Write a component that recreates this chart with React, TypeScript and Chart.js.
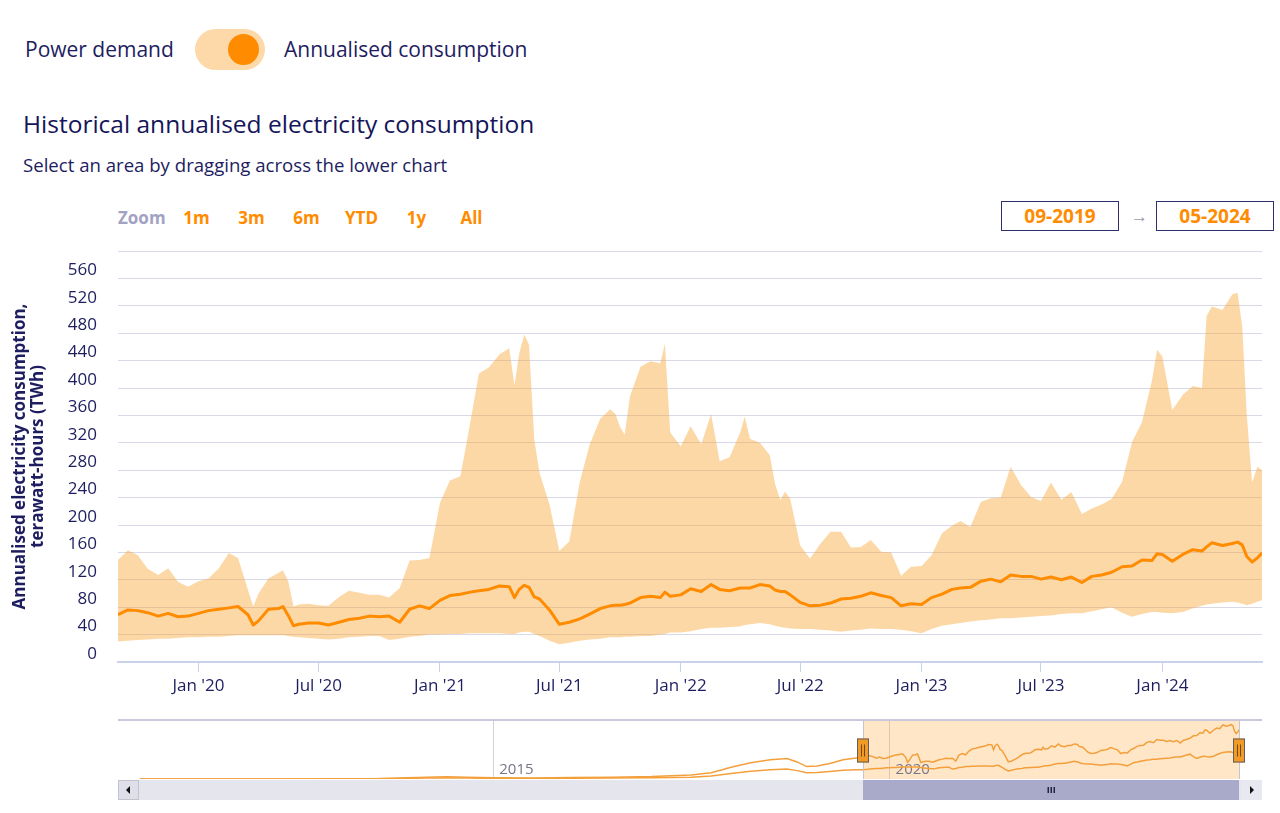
import React, { useEffect, useRef } from 'react';
import { Chart, registerables } from 'chart.js';

Chart.register(...registerables);

// ---------------- data ----------------
const dates: string[] = [
  '2019-09-01','2019-09-16','2019-10-01','2019-10-16','2019-11-01','2019-11-16','2019-12-01','2019-12-16',
  '2020-01-01','2020-01-16','2020-02-01','2020-02-16','2020-03-01','2020-03-16','2020-03-24','2020-04-01','2020-04-16','2020-05-01','2020-05-08','2020-05-16','2020-05-24','2020-06-01','2020-06-16','2020-07-01','2020-07-16','2020-08-01','2020-08-16','2020-09-01','2020-09-16','2020-10-01','2020-10-16','2020-11-01','2020-11-16','2020-12-01','2020-12-16',
  '2021-01-01','2021-01-16','2021-02-01','2021-02-16','2021-03-01','2021-03-16','2021-04-01','2021-04-16','2021-04-24','2021-05-01','2021-05-09','2021-05-16','2021-05-24','2021-06-01','2021-06-16','2021-07-01','2021-07-16','2021-08-01','2021-08-16','2021-09-01','2021-09-16','2021-09-24','2021-10-01','2021-10-08','2021-10-16','2021-11-01','2021-11-16','2021-12-01','2021-12-08','2021-12-16',
  '2022-01-01','2022-01-16','2022-02-01','2022-02-16','2022-03-01','2022-03-16','2022-04-01','2022-04-08','2022-04-16','2022-05-01','2022-05-16','2022-05-24','2022-06-01','2022-06-08','2022-06-16','2022-07-01','2022-07-16','2022-08-01','2022-08-16','2022-09-01','2022-09-16','2022-10-01','2022-10-16','2022-11-01','2022-11-16','2022-12-01','2022-12-16',
  '2023-01-01','2023-01-16','2023-02-01','2023-02-16','2023-03-01','2023-03-16','2023-04-01','2023-04-16','2023-05-01','2023-05-16','2023-06-01','2023-06-16','2023-07-01','2023-07-16','2023-08-01','2023-08-16','2023-09-01','2023-09-16','2023-10-01','2023-10-16','2023-11-01','2023-11-16','2023-12-01','2023-12-16','2023-12-24',
  '2024-01-01','2024-01-16','2024-02-01','2024-02-16','2024-03-01','2024-03-08','2024-03-16','2024-04-01','2024-04-16','2024-04-24','2024-05-01','2024-05-08','2024-05-16','2024-05-24','2024-05-31',
];

// upper bound of the estimate (TWh)
const upperTWh: number[] = [
  149, 163, 156, 136, 127, 137, 117, 110,
  118, 122, 137, 159, 152, 105, 81, 100, 122, 130, 134, 118, 81, 84, 85, 83, 82, 95, 104, 101, 98, 98, 94, 108, 148, 149, 152,
  232, 265, 271, 350, 421, 430, 449, 458, 404, 450, 478, 463, 325, 276, 230, 162, 176, 263, 318, 355, 369, 362, 343, 332, 388, 431, 439, 436, 465, 335,
  315, 344, 318, 362, 293, 299, 335, 358, 326, 320, 302, 260, 236, 249, 238, 170, 151, 173, 190, 190, 167, 168, 178, 161, 160, 126, 139,
  140, 156, 188, 199, 206, 197, 234, 239, 240, 285, 258, 241, 235, 262, 237, 248, 216, 224, 230, 238, 263, 321, 350, 410, 456,
  446, 368, 390, 403, 400, 505, 519, 514, 537, 539, 490, 360, 262, 285, 280,
];

// central estimate (TWh)
const centralTWh: number[] = [
  69, 76, 75, 72, 67, 71, 66, 67,
  71, 75, 77, 79, 81, 69, 54, 60, 77, 78, 81, 68, 53, 55, 57, 57, 54, 58, 62, 64, 67, 66, 67, 58, 77, 82, 78,
  90, 97, 99, 102, 104, 106, 111, 110, 94, 106, 112, 109, 95, 92, 76, 55, 58, 63, 70, 78, 82, 83, 83, 84, 86, 94, 96, 94, 102, 96,
  98, 107, 103, 113, 106, 104, 108, 108, 108, 113, 111, 105, 103, 103, 98, 87, 82, 83, 86, 92, 93, 96, 101, 97, 94, 82, 85,
  84, 94, 99, 106, 108, 109, 118, 121, 117, 127, 125, 125, 121, 124, 120, 124, 116, 125, 127, 131, 139, 140, 149, 148, 158,
  157, 147, 157, 164, 162, 168, 174, 170, 173, 175, 171, 154, 146, 152, 159,
];

// lower bound of the estimate (TWh)
const lowerTWh: number[] = [
  30, 31, 32, 33, 34, 34, 35, 36,
  36, 37, 37, 38, 39, 39, 39, 39, 39, 39, 39, 38, 37, 36, 35, 34, 33, 34, 36, 37, 38, 38, 32, 34, 37, 38, 40,
  40, 41, 41, 42, 42, 42, 42, 41, 41, 43, 44, 44, 41, 38, 31, 26, 28, 31, 33, 34, 36, 36, 36, 37, 37, 38, 38, 40, 41, 43,
  43, 45, 48, 50, 50, 51, 52, 54, 55, 57, 55, 53, 51, 50, 49, 48, 48, 47, 46, 44, 46, 47, 49, 48, 48, 47, 45,
  42, 48, 53, 55, 57, 59, 61, 62, 64, 64, 65, 66, 67, 68, 70, 71, 71, 74, 77, 80, 72, 66, 70, 73, 73,
  72, 71, 73, 78, 82, 84, 85, 87, 88, 87, 85, 83, 85, 88, 90,
];

// navigator history before the selected window
const navHistDates: string[] = [
  '2010-07-18','2011-01-01','2011-07-01','2012-01-01','2012-07-01','2013-01-01','2013-07-01','2013-12-01','2014-03-01','2014-06-01',
  '2014-09-01','2015-01-01','2015-07-01','2016-01-01','2016-07-01','2017-01-01','2017-07-01','2017-10-01','2018-01-01','2018-04-01',
  '2018-07-01','2018-09-15','2018-11-01','2018-12-15','2019-02-01','2019-04-01','2019-06-01','2019-08-01',
];
const navHistCentral: number[] = [
  0, 0.1, 0.3, 0.4, 0.4, 0.6, 1.2, 4, 6, 7,
  6, 4, 3.5, 4.5, 6, 8, 13, 20, 38, 52,
  62, 66, 55, 40, 42, 50, 62, 68,
];
const navHistLower: number[] = [
  0, 0.05, 0.1, 0.2, 0.2, 0.3, 0.6, 2, 3, 3.5,
  3, 2, 2, 2.5, 3, 4, 6, 10, 18, 25,
  30, 32, 27, 20, 21, 24, 28, 30,
];

const xTickDates: string[] = ['2020-01-01','2020-07-01','2021-01-01','2021-07-01','2022-01-01','2022-07-01','2023-01-01','2023-07-01','2024-01-01'];
const navTickDates: string[] = ['2015-01-01', '2020-01-01'];
const viewStart = '2019-09-01';
const viewEnd = '2024-05-31';
const navStart = '2010-04-08';
const navEnd = '2024-09-12';
const yMin = 0;
const yMax = 600;
const yStep = 40;
const navYMax = 190;
const zoomButtons: string[] = ['1m', '3m', '6m', 'YTD', '1y', 'All'];
const rangeFrom = '09-2019';
const rangeTo = '05-2024';
const MONTHS = ['Jan','Feb','Mar','Apr','May','Jun','Jul','Aug','Sep','Oct','Nov','Dec'];

// ---------------- styles ----------------
const FONT = '"Open Sans", "Noto Sans", sans-serif';
const NAVY = '#1d1d5f';
const ORANGE = '#ff8c00';
const BAND = 'rgba(250, 168, 60, 0.45)';
const GRID = '#d8d8e6';
const AXIS = '#c8d3ea';

const t = (s: string) => Date.parse(s + 'T00:00:00Z');
const fmtTick = (v: number) => {
  const d = new Date(v);
  return `${MONTHS[d.getUTCMonth()]} '${String(d.getUTCFullYear()).slice(2)}`;
};

const navDecor = {
  id: 'navDecor',
  beforeDatasetsDraw(chart: any) {
    const { ctx, chartArea: a, scales } = chart;
    const xs = scales.x;
    const x0 = xs.getPixelForValue(t(viewStart));
    const x1 = xs.getPixelForValue(t(viewEnd));
    ctx.save();
    ctx.fillStyle = 'rgba(252, 178, 80, 0.32)';
    ctx.fillRect(x0, a.top, x1 - x0, a.bottom - a.top);
    ctx.fillStyle = '#77778a';
    ctx.font = `15px ${FONT}`;
    ctx.textBaseline = 'alphabetic';
    ctx.textAlign = 'left';
    navTickDates.forEach((d) => {
      const px = xs.getPixelForValue(t(d));
      ctx.fillText(String(new Date(t(d)).getUTCFullYear()), px + 6, a.bottom - 5);
    });
    ctx.restore();
  },
  afterDraw(chart: any) {
    const { ctx, chartArea: a, scales } = chart;
    const xs = scales.x;
    const x0 = Math.round(xs.getPixelForValue(t(viewStart)));
    const x1 = Math.round(xs.getPixelForValue(t(viewEnd)));
    ctx.save();
    ctx.strokeStyle = '#c9c9dc';
    ctx.lineWidth = 2;
    ctx.beginPath();
    ctx.moveTo(a.left, a.top);
    ctx.lineTo(a.right, a.top);
    ctx.stroke();
    ctx.lineWidth = 1;
    ctx.strokeStyle = '#c4c4d4';
    [x0, x1].forEach((x) => {
      ctx.beginPath();
      ctx.moveTo(x + 0.5, a.top);
      ctx.lineTo(x + 0.5, a.bottom);
      ctx.stroke();
    });
    const hy = (a.top + a.bottom) / 2 + 1;
    [x0, x1].forEach((x) => {
      ctx.fillStyle = '#f39a26';
      ctx.strokeStyle = '#5f5f5f';
      ctx.lineWidth = 1;
      ctx.fillRect(x - 6, hy - 12, 12, 24);
      ctx.strokeRect(x - 5.5, hy - 11.5, 11, 23);
      ctx.strokeStyle = '#6b4a20';
      ctx.beginPath();
      ctx.moveTo(x - 1.5, hy - 6); ctx.lineTo(x - 1.5, hy + 6);
      ctx.moveTo(x + 1.5, hy - 6); ctx.lineTo(x + 1.5, hy + 6);
      ctx.stroke();
    });
    const sy = a.bottom + 1;
    const sh = 20;
    ctx.fillStyle = '#e5e5ed';
    ctx.fillRect(a.left, sy, a.right - a.left, sh);
    ctx.fillStyle = '#a9a9c9';
    ctx.fillRect(x0, sy, x1 - x0, sh);
    ctx.fillStyle = '#222244';
    const gc = Math.round((x0 + x1) / 2);
    [-3, 0, 3].forEach((d) => ctx.fillRect(gc + d - 0.5, sy + 7, 1.5, 6));
    ctx.fillStyle = '#dfdfea';
    ctx.strokeStyle = '#c3c3d0';
    ctx.fillRect(a.left, sy, 21, sh);
    ctx.strokeRect(a.left + 0.5, sy + 0.5, 20, sh - 1);
    ctx.fillStyle = '#e8e8f0';
    ctx.fillRect(a.right - 21, sy, 21, sh);
    ctx.fillStyle = '#111';
    ctx.beginPath();
    ctx.moveTo(a.left + 8, sy + 10); ctx.lineTo(a.left + 12, sy + 6); ctx.lineTo(a.left + 12, sy + 14); ctx.closePath();
    ctx.fill();
    ctx.beginPath();
    ctx.moveTo(a.right - 8, sy + 10); ctx.lineTo(a.right - 12, sy + 6); ctx.lineTo(a.right - 12, sy + 14); ctx.closePath();
    ctx.fill();
    ctx.restore();
  },
};

export default function App() {
  const mainRef = useRef<HTMLCanvasElement | null>(null);
  const navRef = useRef<HTMLCanvasElement | null>(null);

  useEffect(() => {
    Chart.defaults.font.family = FONT;
    const n = Math.min(dates.length, upperTWh.length, centralTWh.length, lowerTWh.length);
    const pts = (vals: number[]) => dates.slice(0, n).map((d, i) => ({ x: t(d), y: vals[i] }));

    const main = new Chart(mainRef.current as HTMLCanvasElement, {
      type: 'line',
      data: {
        datasets: [
          { label: 'Central estimate', data: pts(centralTWh), borderColor: ORANGE, borderWidth: 3, borderJoinStyle: 'round', pointRadius: 0, fill: false, tension: 0, order: 0 },
          { label: 'Upper bound', data: pts(upperTWh), borderWidth: 0, borderColor: 'rgba(0,0,0,0)', backgroundColor: BAND, pointRadius: 0, fill: '+1', tension: 0, order: 1 },
          { label: 'Lower bound', data: pts(lowerTWh), borderWidth: 0, borderColor: 'rgba(0,0,0,0)', pointRadius: 0, fill: false, tension: 0, order: 2 },
        ],
      } as any,
      options: {
        animation: false,
        responsive: false,
        devicePixelRatio: 1,
        layout: { padding: { left: 0, top: 11, right: 18, bottom: 0 } },
        plugins: { legend: { display: false }, tooltip: { enabled: false } },
        scales: {
          x: {
            type: 'linear',
            min: t(viewStart),
            max: t(viewEnd),
            afterBuildTicks: (s: any) => { s.ticks = xTickDates.map((d) => ({ value: t(d) })); },
            afterFit: (s: any) => { s.height = 48; s.paddingLeft = 0; s.paddingRight = 0; },
            ticks: {
              callback: (v: any) => fmtTick(Number(v)),
              color: NAVY,
              font: { family: FONT, size: 17 },
              padding: 4,
              autoSkip: false,
              maxRotation: 0,
              minRotation: 0,
            },
            grid: { drawOnChartArea: false, drawTicks: true, tickLength: 10, color: AXIS, lineWidth: 1 },
            border: { display: true, color: AXIS, width: 2 },
          },
          y: {
            type: 'linear',
            min: yMin,
            max: yMax,
            afterFit: (s: any) => { s.width = 118; s.paddingTop = 0; s.paddingBottom = 0; },
            ticks: {
              stepSize: yStep,
              callback: (v: any) => (Number(v) >= yMax ? '' : String(v)),
              color: NAVY,
              font: { family: FONT, size: 17 },
              padding: 21,
              labelOffset: -8,
            },
            grid: {
              drawTicks: false,
              color: (c: any) => (c.tick && c.tick.value === 0 ? 'rgba(0,0,0,0)' : GRID),
              lineWidth: 1,
            },
            border: { display: false },
            title: {
              display: true,
              text: ['Annualised electricity consumption,', 'terawatt-hours (TWh)'],
              color: NAVY,
              font: { family: FONT, size: 17, weight: 'bold', lineHeight: 1.06 },
              padding: { top: 11, bottom: 0 },
            },
          },
        },
      } as any,
    });

    const navDates = navHistDates.concat(dates.slice(0, n));
    const navC = navHistCentral.concat(centralTWh.slice(0, n));
    const navL = navHistLower.concat(lowerTWh.slice(0, n));
    const navPts = (vals: number[]) => navDates.map((d, i) => ({ x: t(d), y: vals[i] }));

    const nav = new Chart(navRef.current as HTMLCanvasElement, {
      type: 'line',
      data: {
        datasets: [
          { label: 'Central', data: navPts(navC), borderColor: '#f3a03c', borderWidth: 1.5, pointRadius: 0, fill: false, tension: 0 },
          { label: 'Lower', data: navPts(navL), borderColor: '#f3a03c', borderWidth: 1.5, pointRadius: 0, fill: false, tension: 0 },
        ],
      } as any,
      options: {
        animation: false,
        responsive: false,
        devicePixelRatio: 1,
        layout: { padding: { left: 118, top: 10, right: 18, bottom: 34 } },
        plugins: { legend: { display: false }, tooltip: { enabled: false } },
        scales: {
          x: {
            type: 'linear',
            min: t(navStart),
            max: t(navEnd),
            afterBuildTicks: (s: any) => { s.ticks = navTickDates.map((d) => ({ value: t(d) })); },
            afterFit: (s: any) => { s.height = 0; s.paddingLeft = 0; s.paddingRight = 0; },
            ticks: { display: false },
            grid: { drawTicks: false, color: '#d2d2dc', lineWidth: 1 },
            border: { display: false },
          },
          y: { display: false, min: 0, max: navYMax },
        },
      } as any,
      plugins: [navDecor],
    });

    return () => {
      main.destroy();
      nav.destroy();
    };
  }, []);

  const abs = (s: any) => ({ position: 'absolute', whiteSpace: 'nowrap', ...s });

  return (
    <div style={{ position: 'absolute', left: 0, top: 0, width: 1280, height: 813, background: '#fff', fontFamily: FONT, overflow: 'hidden' }}>
      <div style={abs({ left: 25, top: 34, fontSize: 21, lineHeight: '30px', color: NAVY })}>Power demand</div>
      <div style={abs({ left: 195, top: 29, width: 70, height: 41, borderRadius: 21, background: '#fdd8a8' })} />
      <div style={abs({ left: 228, top: 34, width: 31, height: 31, borderRadius: '50%', background: ORANGE })} />
      <div style={abs({ left: 284, top: 34, fontSize: 21, lineHeight: '30px', color: NAVY })}>Annualised consumption</div>

      <div style={abs({ left: 23, top: 107, fontSize: 24.5, lineHeight: '34px', color: '#15155a' })}>Historical annualised electricity consumption</div>
      <div style={abs({ left: 23, top: 152, fontSize: 18.6, lineHeight: '26px', color: NAVY })}>Select an area by dragging across the lower chart</div>

      <div style={abs({ left: 118, top: 205, fontSize: 17, fontWeight: 700, lineHeight: '26px', color: '#a2a2c2' })}>Zoom</div>
      {zoomButtons.map((b, i) => (
        <div key={b} style={abs({ left: 169 + i * 55, top: 205, width: 55, textAlign: 'center', fontSize: 17, fontWeight: 700, lineHeight: '26px', color: ORANGE })}>{b}</div>
      ))}

      <div style={abs({ left: 1001, top: 201, width: 116, height: 28, border: '1.5px solid #2e2e6e', textAlign: 'center', fontSize: 19, fontWeight: 700, lineHeight: '28px', color: ORANGE })}>{rangeFrom}</div>
      <div style={abs({ left: 1131, top: 202, fontSize: 17, lineHeight: '28px', color: '#9a9aaa' })}>→</div>
      <div style={abs({ left: 1156, top: 201, width: 116, height: 28, border: '1.5px solid #2e2e6e', textAlign: 'center', fontSize: 19, fontWeight: 700, lineHeight: '28px', color: ORANGE })}>{rangeTo}</div>

      <canvas ref={mainRef} width={1280} height={470} style={{ position: 'absolute', left: 0, top: 240, display: 'block' }} />
      <canvas ref={navRef} width={1280} height={103} style={{ position: 'absolute', left: 0, top: 710, display: 'block' }} />
    </div>
  );
}
